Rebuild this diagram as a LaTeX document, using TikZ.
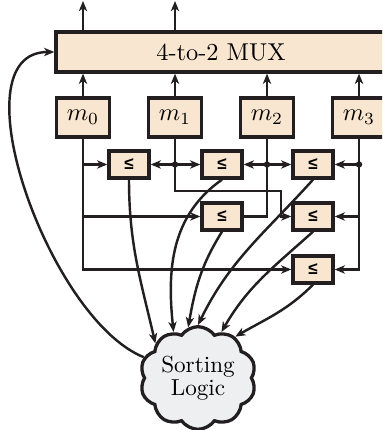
\documentclass[tikz,border=0pt]{standalone}
\usepackage{fontspec}
\usetikzlibrary{arrows.meta,shapes.symbols}
\newfontfamily\lesym{Liberation Sans}
\definecolor{boxfill}{RGB}{249,230,208}
\definecolor{cloudfill}{RGB}{238,239,241}
\definecolor{ink}{RGB}{35,31,32}
\tikzset{
  wire/.style={draw=ink, line width=1pt},
  flow/.style={wire, -{Stealth[length=4.2pt,width=3.4pt,inset=1.2pt]}},
  blk/.style={draw=ink, fill=boxfill, line width=1.35pt, inner sep=0pt},
  regbox/.style={blk, minimum width=53*0.41pt, minimum height=39*0.41pt},
  cmpbox/.style={blk, minimum width=40*0.41pt, minimum height=27*0.41pt,
    font=\lesym\bfseries\fontsize{7}{7}\selectfont},
  joint/.style={circle, fill=ink, inner sep=0pt, minimum size=2.6pt},
}
\begin{document}
\begin{tikzpicture}[x=0.41pt,y=0.41pt]
\useasboundingbox (0,0) rectangle (382,430);
\clip (0,0) rectangle (382,430);

% multiplexer and the four registers
\node[blk, minimum width=330*0.41pt, minimum height=40*0.41pt] (mux) at (221,378) {4-to-2 MUX};
\foreach \i/\x in {0/83,1/175,2/267,3/359}
  \node[regbox] (m\i) at (\x,312.5) {$m_\i$};

% comparators
\node[cmpbox] (c01) at (129,265.5) {≤};
\node[cmpbox] (c12) at (222,265.5) {≤};
\node[cmpbox] (c23) at (313,265.5) {≤};
\node[cmpbox] (c02) at (222,213.5) {≤};
\node[cmpbox] (c13) at (313,213.5) {≤};
\node[cmpbox] (c03) at (313,160.5) {≤};

% sorting logic
\node[cloud, cloud puffs=10, cloud puff arc=110, aspect=1.15, draw=ink, fill=cloudfill,
  line width=1.35pt, minimum width=116*0.41pt, minimum height=100*0.41pt, inner sep=0pt,
  align=center, font=\fontsize{9.5}{8.2}\selectfont] (sl) at (198,52) {Sorting\\Logic};

% outputs and register inputs to the mux
\coordinate (o0) at (83,429);
\coordinate (o1) at (175,429);
\draw[flow] (mux.north -| m0) -- (o0);
\draw[flow] (mux.north -| m1) -- (o1);
\foreach \i in {0,...,3}
  \draw[flow] (m\i.north) -- (mux.south -| m\i);

% m0 bus
\draw[flow] (m0.south) |- (c03.west);
\draw[flow] (m0.south |- c01.west) -- (c01.west);
\draw[flow] (m0.south |- c02.west) -- (c02.west);

% m1 bus
\coordinate (bend1) at (281,239);
\draw[flow] (m1.south) |- (bend1) |- (c13.west);
\coordinate (j1) at (m1.south |- c01.east);
\draw[flow] (j1) -- (c01.east);
\draw[flow] (j1) -- (c12.west);
\node[joint] at (j1) {};

% m2 bus
\draw[wire] (m2.south) |- (c02.east);
\coordinate (j2) at (m2.south |- c12.east);
\draw[flow] (j2) -- (c12.east);
\draw[flow] (j2) -- (c23.west);
\node[joint] at (j2) {};

% m3 bus
\draw[flow] (m3.south) |- (c03.east);
\coordinate (j3) at (m3.south |- c23.east);
\draw[flow] (j3) -- (c23.east);
\draw[flow] (m3.south |- c13.east) -- (c13.east);
\node[joint] at (j3) {};

% comparator results to the sorting logic
\draw[flow] (c01.south) to[out=-90, in=103] (sl.141);
\draw[flow] (c12.south) to[out=-145, in=96] (sl.118);
\draw[flow] (c02.south) to[out=-122, in=80] (sl.101);
\draw[flow] (c23.south) to[out=-132, in=64] (sl.90);
\draw[flow] (c13.south) to[out=-138, in=60] (sl.63);
\draw[flow] (c03.south) to[out=-135, in=30] (sl.48);

% select feedback to the mux
\draw[flow] (sl.159) .. controls +(-95,38) and +(-100,0) .. (mux.west);
\end{tikzpicture}
\end{document}
